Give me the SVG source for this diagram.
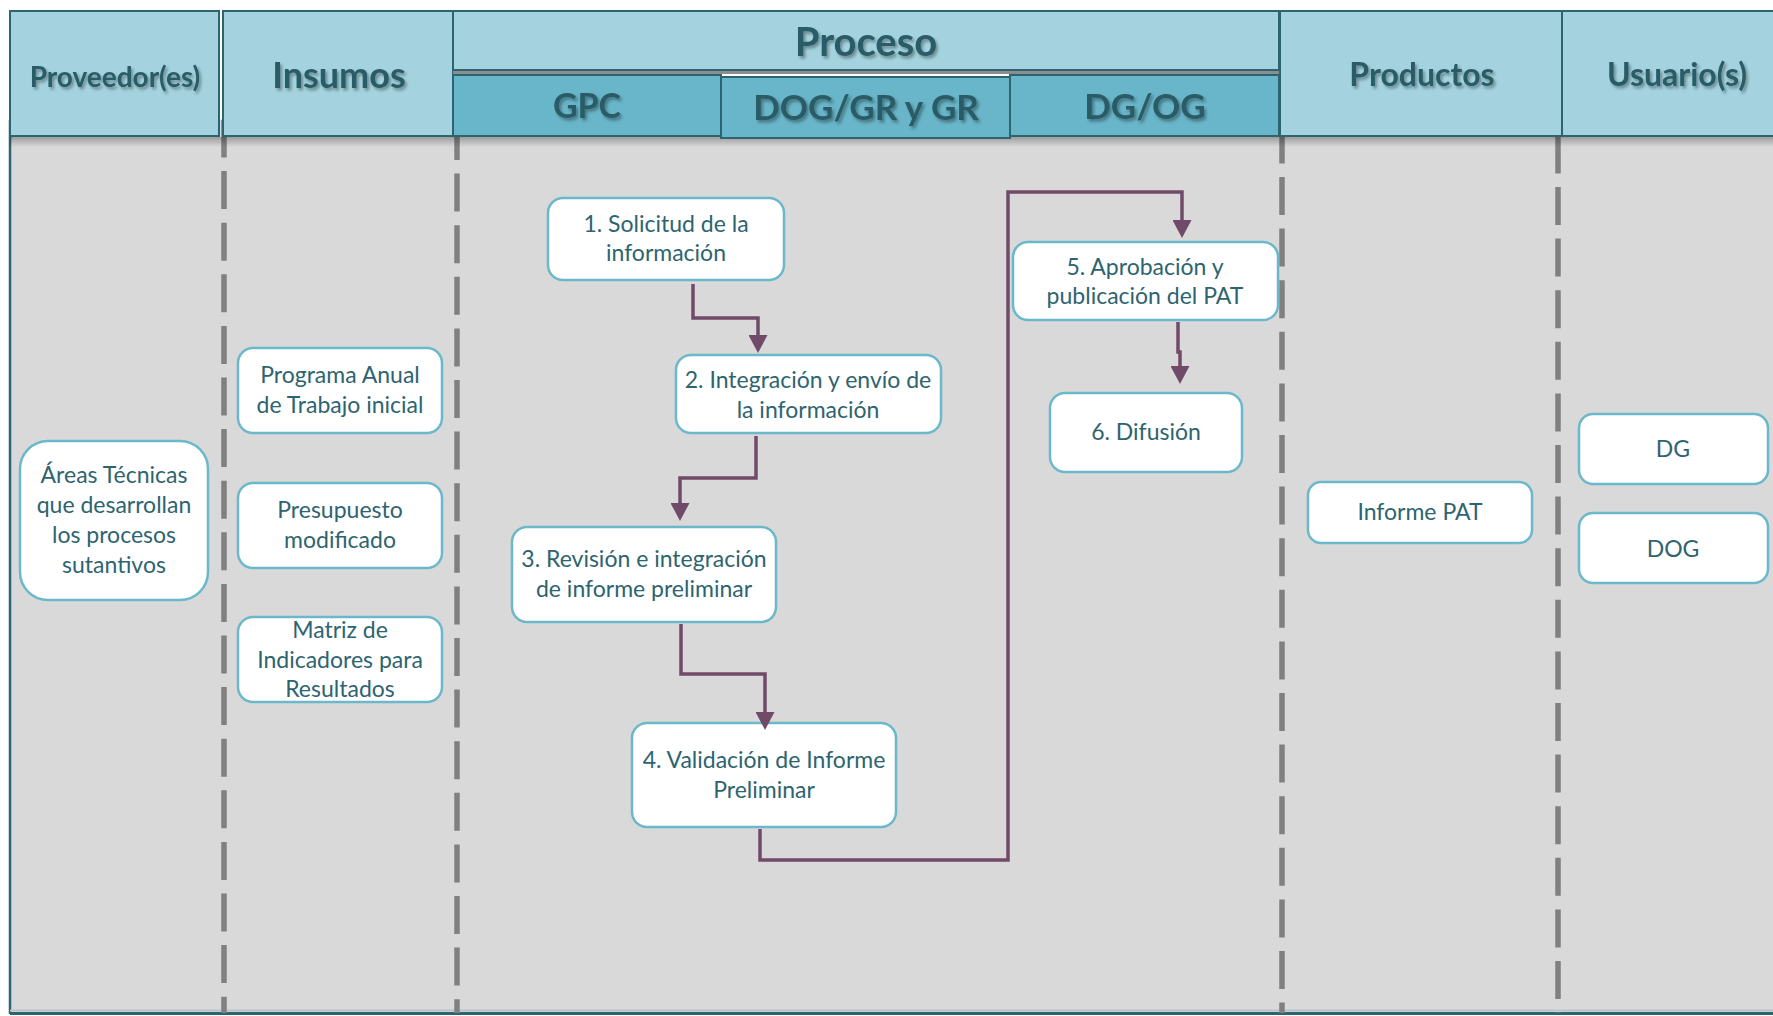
<svg xmlns="http://www.w3.org/2000/svg" width="1773" height="1016" viewBox="0 0 1773 1016">
<defs>
<style>
.hdr{fill:#a4d3df;stroke:#2c6571;stroke-width:2}
.sub{fill:#69b5c9;stroke:#2c6571;stroke-width:2}
.ht{font-family:Lato,"Open Sans",sans-serif;font-weight:bold;fill:#2a5c67;text-anchor:middle;filter:url(#ts)}
.lane{stroke:#808080;stroke-width:5.5;stroke-dasharray:38 13.6;fill:none}
.node{fill:#ffffff;stroke:#6bb8cb;stroke-width:2.5}
.nt{font-family:Lato,"Open Sans",sans-serif;font-size:23px;fill:#2e6470;text-anchor:middle}
.conn{fill:none;stroke:#714a6a;stroke-width:3.5;stroke-linejoin:miter}
</style>
<filter id="ts" x="-10%" y="-20%" width="130%" height="160%">
<feDropShadow dx="2" dy="2.5" stdDeviation="1.5" flood-color="#000000" flood-opacity="0.35"/>
</filter>
<linearGradient id="sh" x1="0" y1="0" x2="0" y2="1">
<stop offset="0" stop-color="#000000" stop-opacity="0.28"/>
<stop offset="1" stop-color="#000000" stop-opacity="0"/>
</linearGradient>
<marker id="arr" markerUnits="userSpaceOnUse" markerWidth="19" markerHeight="19" viewBox="0 0 19 19" refX="14" refY="9.5" orient="auto">
<path d="M0,0 L18,9.5 L0,19 Z" fill="#714a6a"/>
</marker>
</defs>

<rect x="0" y="0" width="1773" height="1016" fill="#ffffff"/>
<!-- body -->
<rect x="10" y="120" width="1763" height="893" fill="#d9d9d9"/>
<line x1="10" y1="120" x2="10" y2="1014" stroke="#2c6571" stroke-width="2.5"/>
<line x1="10" y1="1010.5" x2="1773" y2="1010.5" stroke="#b9c4c7" stroke-width="2"/>
<line x1="10" y1="1013.5" x2="1773" y2="1013.5" stroke="#2c6571" stroke-width="3"/>

<!-- lane separators -->
<g id="lanes">
<line class="lane" x1="224" y1="119.5" x2="224" y2="1013"/>
<line class="lane" x1="457" y1="122" x2="457" y2="1013"/>
<line class="lane" x1="1282" y1="125.4" x2="1282" y2="1013"/>
<line class="lane" x1="1558" y1="135.4" x2="1558" y2="1013"/>
</g>

<rect x="10" y="137" width="1763" height="10" fill="url(#sh)"/>

<!-- header -->
<g id="header">
<g id="h-proveedor">
<rect class="hdr" x="10" y="11" width="209" height="125"/>
<text class="ht" x="115" y="87" font-size="28">Proveedor(es)</text>
</g>
<g id="h-insumos">
<rect class="hdr" x="223" y="11" width="230" height="125"/>
<text class="ht" x="339" y="88" font-size="36">Insumos</text>
</g>
<g id="h-proceso">
<rect class="hdr" x="453" y="11" width="826" height="59"/>
<line x1="453" y1="72.5" x2="1279" y2="72.5" stroke="#8c8c8c" stroke-width="3"/>
<text class="ht" x="866" y="56" font-size="40">Proceso</text>
</g>
<g id="h-gpc">
<rect class="sub" x="453" y="75" width="268" height="61"/>
<text class="ht" x="587" y="118" font-size="34">GPC</text>
</g>
<g id="h-dg-og">
<rect class="sub" x="1010" y="75" width="269" height="61"/>
<text class="ht" x="1145" y="119" font-size="35">DG/OG</text>
</g>
<g id="h-dog">
<rect class="sub" x="721" y="77" width="289" height="61"/>
<text class="ht" x="866" y="120" font-size="35">DOG/GR y GR</text>
</g>
<g id="h-productos">
<rect class="hdr" x="1280" y="11" width="282" height="125"/>
<text class="ht" x="1422" y="86" font-size="32">Productos</text>
</g>
<g id="h-usuarios">
<rect class="hdr" x="1562" y="11" width="230" height="125"/>
<text class="ht" x="1677" y="86" font-size="32">Usuario(s)</text>
</g>
</g>

<!-- nodes -->
<g id="n-areas">
<rect class="node" x="20" y="441" width="188" height="159" rx="28"/>
<text class="nt"><tspan x="114" y="483">Áreas Técnicas</tspan><tspan x="114" y="513">que desarrollan</tspan><tspan x="114" y="543">los procesos</tspan><tspan x="114" y="573">sutantivos</tspan></text>
</g>
<g id="n-programa">
<rect class="node" x="238" y="348" width="204" height="85" rx="15"/>
<text class="nt"><tspan x="340" y="383">Programa Anual</tspan><tspan x="340" y="413">de Trabajo inicial</tspan></text>
</g>
<g id="n-presupuesto">
<rect class="node" x="238" y="483" width="204" height="85" rx="15"/>
<text class="nt"><tspan x="340" y="518">Presupuesto</tspan><tspan x="340" y="548">modificado</tspan></text>
</g>
<g id="n-matriz">
<rect class="node" x="238" y="617" width="204" height="85" rx="15"/>
<text class="nt"><tspan x="340" y="638">Matriz de</tspan><tspan x="340" y="668">Indicadores para</tspan><tspan x="340" y="697">Resultados</tspan></text>
</g>
<g id="n1">
<rect class="node" x="548" y="198" width="236" height="82" rx="15"/>
<text class="nt"><tspan x="666" y="232">1. Solicitud de la</tspan><tspan x="666" y="261">información</tspan></text>
</g>
<g id="n2">
<rect class="node" x="676" y="355" width="265" height="78" rx="15"/>
<text class="nt"><tspan x="808" y="388">2. Integración y envío de</tspan><tspan x="808" y="418">la información</tspan></text>
</g>
<g id="n3">
<rect class="node" x="512" y="527" width="264" height="95" rx="15"/>
<text class="nt"><tspan x="644" y="567">3. Revisión e integración</tspan><tspan x="644" y="597">de informe preliminar</tspan></text>
</g>
<g id="n4">
<rect class="node" x="632" y="723" width="264" height="104" rx="15"/>
<text class="nt"><tspan x="764" y="768">4. Validación de Informe</tspan><tspan x="764" y="798">Preliminar</tspan></text>
</g>
<g id="n5">
<rect class="node" x="1013" y="242" width="265" height="78" rx="15"/>
<text class="nt"><tspan x="1145" y="275">5. Aprobación y</tspan><tspan x="1145" y="304">publicación del PAT</tspan></text>
</g>
<g id="n6">
<rect class="node" x="1050" y="393" width="192" height="79" rx="15"/>
<text class="nt" x="1146" y="440">6. Difusión</text>
</g>
<g id="n-informe">
<rect class="node" x="1308" y="482" width="224" height="61" rx="13"/>
<text class="nt" x="1420" y="520">Informe PAT</text>
</g>
<g id="n-dg">
<rect class="node" x="1579" y="414" width="189" height="70" rx="14"/>
<text class="nt" x="1673" y="457">DG</text>
</g>
<g id="n-dog">
<rect class="node" x="1579" y="513" width="189" height="70" rx="14"/>
<text class="nt" x="1673" y="557">DOG</text>
</g>

<!-- connectors -->
<g id="connectors">
<path class="conn" d="M693,284 V318 H758 V349" marker-end="url(#arr)"/>
<path class="conn" d="M756,436 V478 H680 V517" marker-end="url(#arr)"/>
<path class="conn" d="M681,624 V674 H765 V726" marker-end="url(#arr)"/>
<path class="conn" d="M760,829 V860 H1008 V192 H1182 V234" marker-end="url(#arr)"/>
<path class="conn" d="M1178,322 V352 H1180 V380" marker-end="url(#arr)"/>
</g>
</svg>
